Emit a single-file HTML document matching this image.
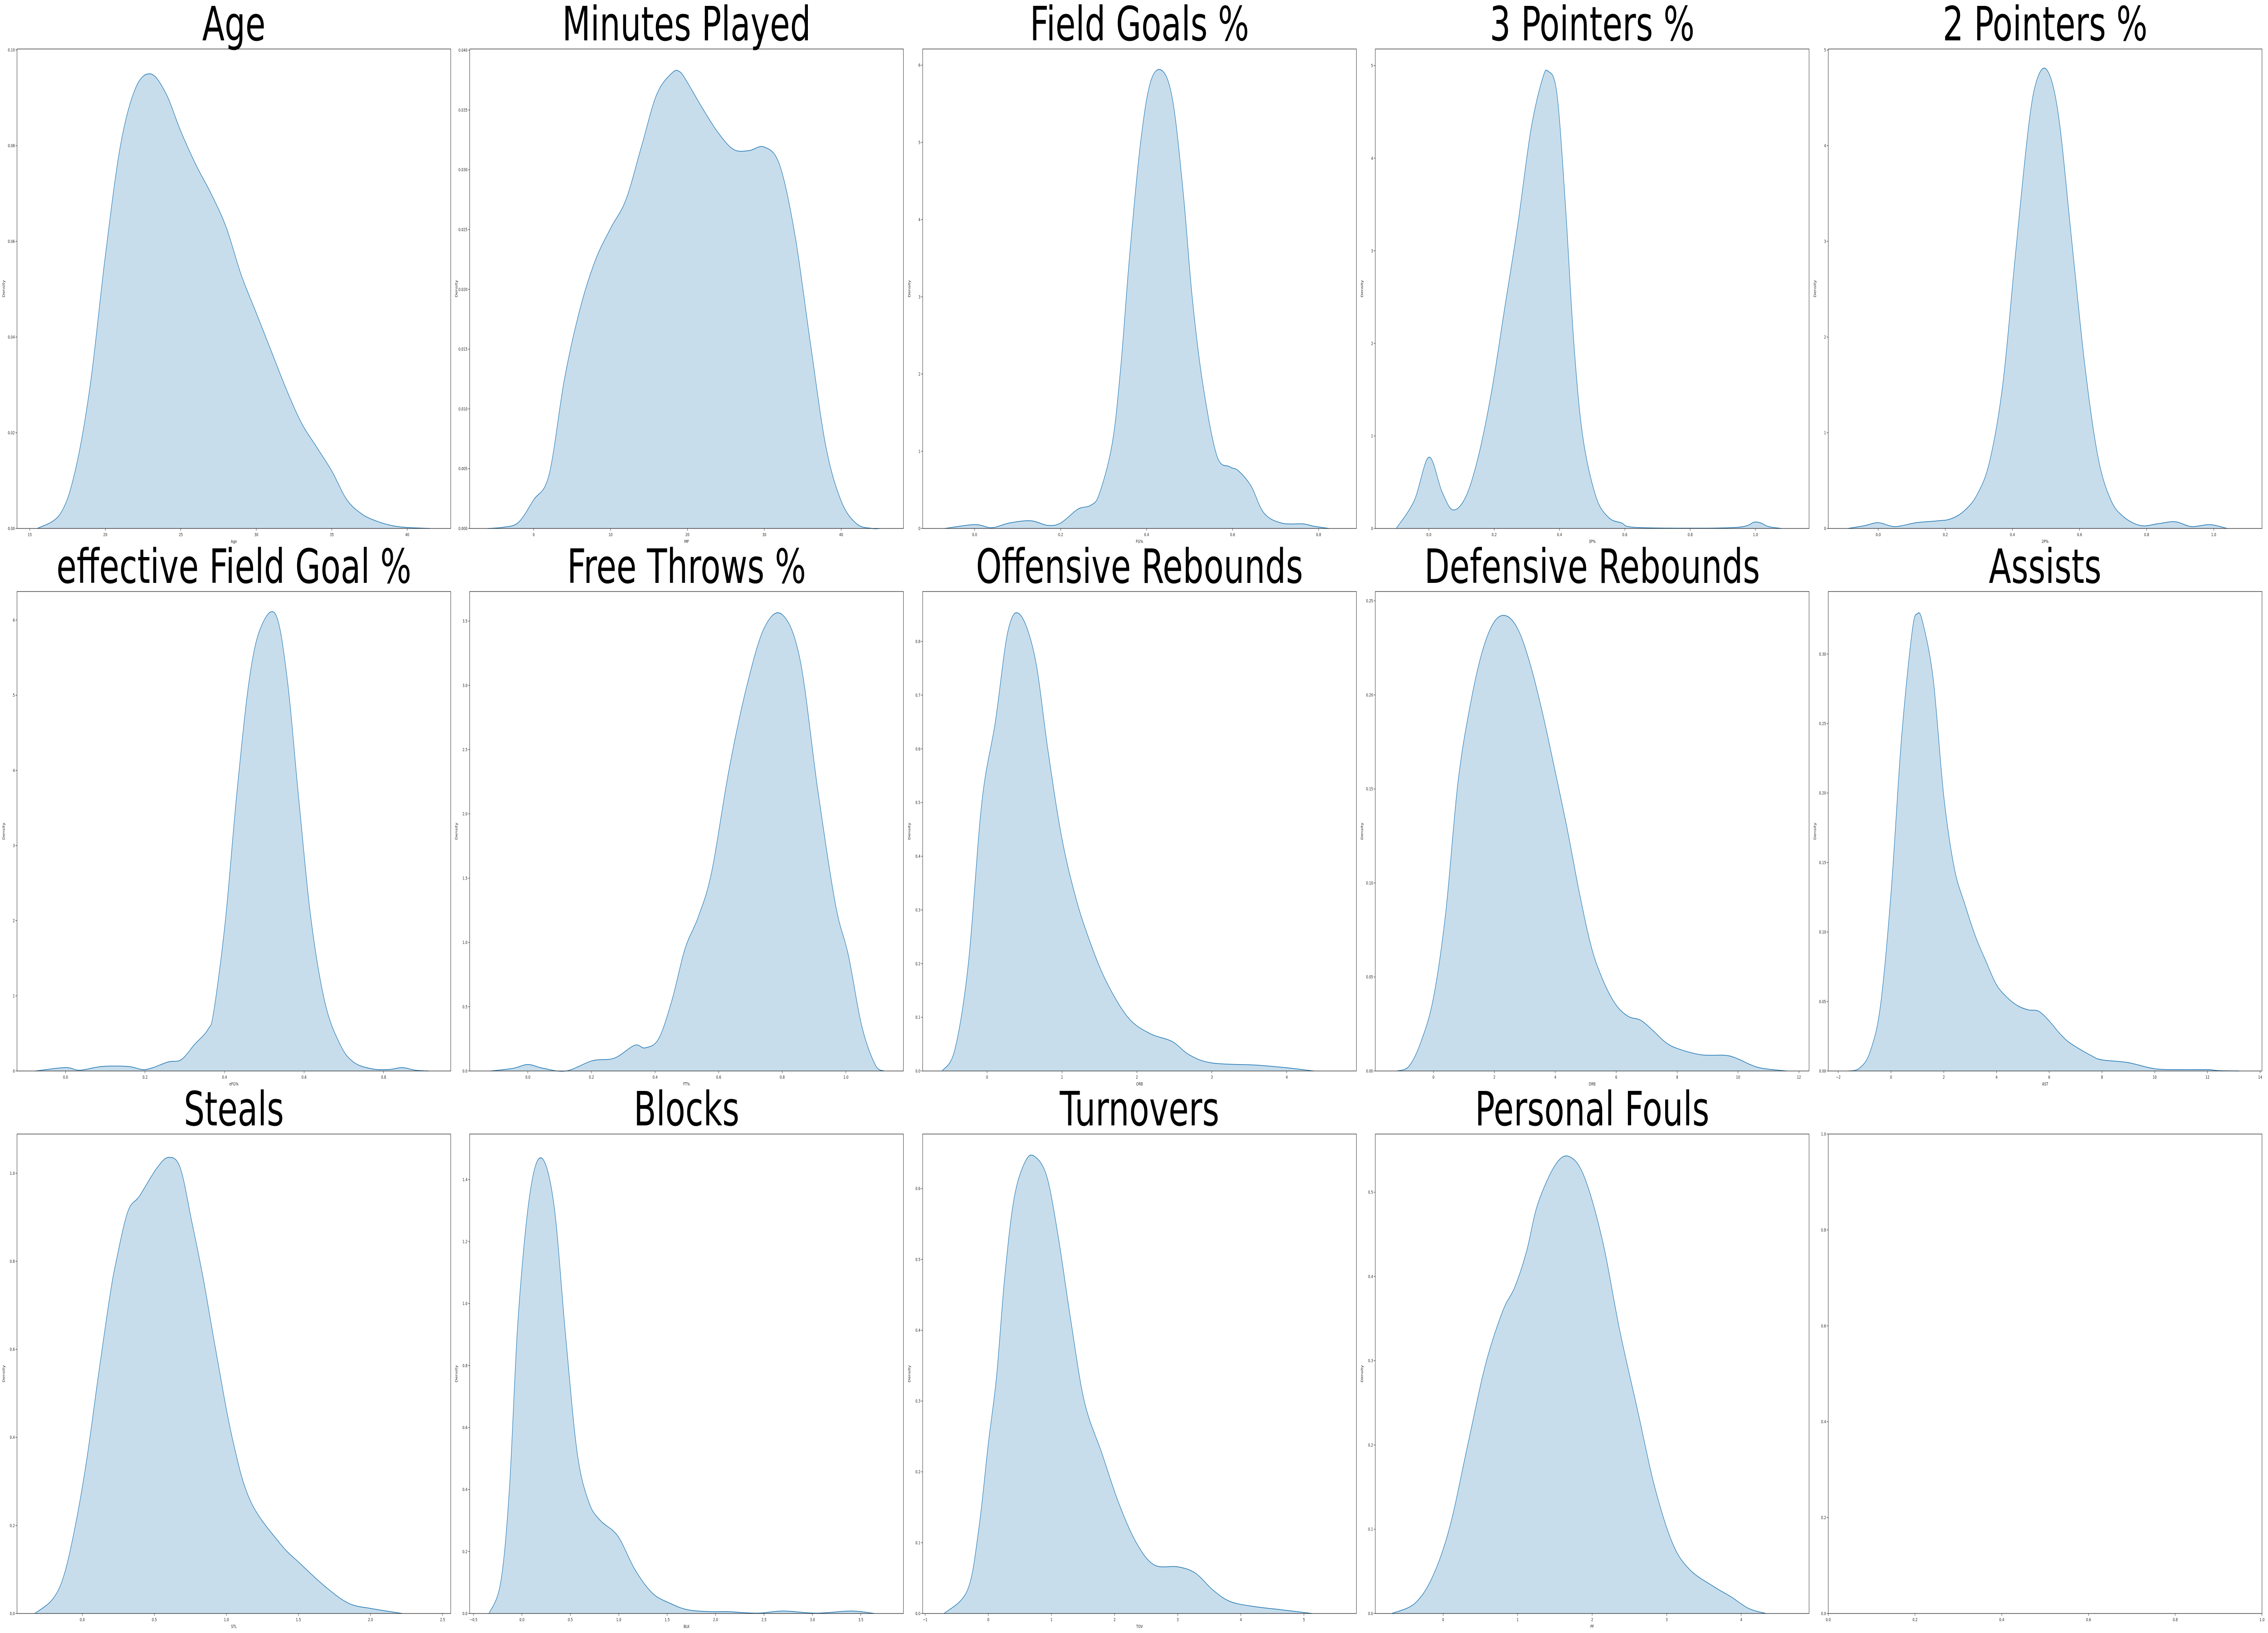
<!DOCTYPE html>
<html><head><meta charset="utf-8">
<style>
html,body{margin:0;padding:0;background:#fff;overflow:hidden;width:100vw;height:100vh;}
svg{display:block;position:absolute;left:0;top:0;width:100vw;height:100vh;font-family:"DejaVu Sans","Liberation Sans",sans-serif;}
</style></head>
<body>
<svg id="fig" viewBox="0 0 7200 3600" preserveAspectRatio="none" xmlns="http://www.w3.org/2000/svg"></svg>
<script>
// ---- data ----
const ageX=[15.5,17,18,19,20,21,22,23,24,25,26,27,28,29,30,31,32,33,34,35,36,37,38,39,40,41.5];
const ageY=[0,0.003,0.012,0.03,0.057,0.08,0.092,0.095,0.091,0.083,0.076,0.07,0.063,0.053,0.045,0.037,0.029,0.022,0.017,0.012,0.006,0.003,0.0015,0.0006,0.0002,0];
const mpX=[-6,-4,-2,0,2,4,6,8,10,12,14,16,18,19,20,22,24,26,28,30,32,34,36,38,40,42,44,45];
const mpY=[0,0.0001,0.0005,0.0024,0.0045,0.0125,0.0183,0.0224,0.0251,0.0275,0.0319,0.0363,0.0381,0.0382,0.0373,0.0351,0.0331,0.0317,0.0316,0.0319,0.0304,0.0245,0.0155,0.0069,0.0023,0.0004,0,0];
const fgX=[-0.07,0,0.04,0.08,0.13,0.17,0.2,0.24,0.27,0.29,0.32,0.34,0.36,0.386,0.41,0.438,0.462,0.486,0.506,0.53,0.563,0.593,0.613,0.643,0.673,0.714,0.764,0.788,0.824];
const fgY=[0,0.05,0.01,0.07,0.1,0.04,0.07,0.25,0.3,0.45,1.1,2.1,3.5,5.0,5.8,5.92,5.5,4.3,3.0,1.9,0.95,0.8,0.75,0.55,0.2,0.07,0.06,0.03,0];
const p3X=[-0.1,-0.045,0,0.04,0.074,0.114,0.153,0.193,0.233,0.273,0.312,0.347,0.365,0.392,0.418,0.444,0.471,0.511,0.55,0.59,0.643,0.934,1.0,1.04,1.08];
const p3Y=[0,0.3,0.77,0.4,0.2,0.35,0.8,1.5,2.4,3.3,4.3,4.85,4.94,4.7,3.5,2.0,1.0,0.35,0.12,0.06,0.01,0.01,0.07,0.02,0];
const p2X=[-0.09,-0.04,0,0.05,0.113,0.178,0.216,0.255,0.294,0.332,0.371,0.41,0.448,0.474,0.505,0.538,0.577,0.616,0.655,0.693,0.732,0.783,0.835,0.886,0.933,0.99,1.04];
const p2Y=[0,0.03,0.06,0.02,0.06,0.08,0.1,0.18,0.35,0.7,1.5,2.9,4.2,4.7,4.78,4.3,3.0,1.7,0.75,0.3,0.12,0.03,0.05,0.07,0.02,0.04,0];
const efgX=[-0.076,0,0.036,0.091,0.158,0.202,0.258,0.291,0.324,0.358,0.373,0.402,0.431,0.462,0.491,0.529,0.558,0.587,0.618,0.653,0.691,0.724,0.769,0.813,0.847,0.88,0.913];
const efgY=[0,0.045,0.01,0.06,0.06,0.02,0.12,0.15,0.35,0.55,0.8,2.0,3.7,5.2,5.9,6.07,5.2,3.6,2.0,0.9,0.35,0.12,0.03,0.02,0.045,0.01,0];
const ftX=[-0.117,-0.047,0,0.05,0.12,0.203,0.272,0.336,0.369,0.411,0.453,0.494,0.536,0.578,0.633,0.689,0.744,0.8,0.856,0.911,0.967,1.008,1.05,1.092,1.12];
const ftY=[0,0.02,0.05,0.02,0,0.08,0.1,0.2,0.18,0.25,0.55,0.95,1.2,1.55,2.35,3.0,3.45,3.55,3.2,2.2,1.3,0.9,0.35,0.05,0];
const orbX=[-0.6,-0.43,-0.25,-0.07,0.11,0.28,0.44,0.64,0.81,0.99,1.17,1.35,1.58,1.88,2.17,2.47,2.7,3.0,3.59,4.0,4.36];
const orbY=[0,0.04,0.2,0.5,0.65,0.82,0.85,0.77,0.6,0.44,0.33,0.25,0.17,0.1,0.07,0.055,0.03,0.015,0.011,0.006,0];
const drbX=[-1.2,-0.8,-0.4,0,0.4,0.8,1.2,1.6,2.0,2.4,2.8,3.2,3.6,4.0,4.4,4.8,5.2,5.6,6.0,6.4,6.8,7.2,7.6,8.0,8.8,9.6,10.0,10.4,10.8,11.6];
const drbY=[0,0.0026,0.016,0.039,0.084,0.153,0.194,0.223,0.239,0.242,0.234,0.215,0.189,0.159,0.128,0.094,0.065,0.047,0.035,0.029,0.027,0.0216,0.0155,0.012,0.0086,0.0083,0.0064,0.0034,0.0014,0];
const astX=[-1.6,-1.2,-0.8,-0.4,0,0.4,0.8,1.0,1.2,1.6,2.0,2.4,2.8,3.2,3.6,4.0,4.4,4.8,5.2,5.6,6.0,6.4,6.8,7.6,8.0,9.0,10.0,11.0,12.0,12.4,13.2];
const astY=[0,0.002,0.0135,0.047,0.128,0.24,0.316,0.329,0.323,0.282,0.198,0.146,0.12,0.097,0.079,0.062,0.053,0.047,0.044,0.043,0.036,0.027,0.02,0.011,0.008,0.006,0.0016,0.001,0.001,0.0003,0];
const stlX=[-0.33,-0.21,-0.13,-0.05,0.03,0.11,0.19,0.235,0.316,0.396,0.518,0.6,0.68,0.76,0.84,0.92,1.04,1.165,1.37,1.51,1.69,1.85,2.01,2.22];
const stlY=[0,0.031,0.084,0.197,0.348,0.537,0.718,0.8,0.913,0.948,1.012,1.036,1.012,0.89,0.76,0.61,0.4,0.257,0.16,0.114,0.06,0.023,0.011,0];
const blkX=[-0.34,-0.22,-0.13,-0.04,0.08,0.2,0.33,0.45,0.57,0.69,0.81,0.99,1.17,1.35,1.53,1.71,1.95,2.13,2.43,2.7,3.04,3.4,3.64];
const blkY=[0,0.1,0.4,0.95,1.35,1.47,1.32,0.9,0.52,0.36,0.3,0.25,0.14,0.065,0.033,0.012,0.006,0.006,0.001,0.008,0.001,0.008,0];
const tovX=[-0.7,-0.33,-0.15,0,0.13,0.26,0.41,0.59,0.74,0.93,1.11,1.3,1.52,1.8,2.07,2.35,2.63,3.0,3.28,3.56,3.83,4.2,4.67,5.13];
const tovY=[0,0.033,0.12,0.24,0.334,0.475,0.587,0.639,0.645,0.616,0.531,0.418,0.3,0.226,0.155,0.099,0.0685,0.066,0.057,0.033,0.017,0.01,0.005,0];
const pfX=[-0.69,-0.38,-0.14,0.09,0.33,0.57,0.8,0.96,1.12,1.27,1.51,1.7,1.9,2.14,2.37,2.61,2.84,3.08,3.31,3.63,3.86,4.1,4.33];
const pfY=[0,0.012,0.044,0.103,0.2,0.296,0.359,0.387,0.43,0.486,0.533,0.542,0.517,0.442,0.336,0.241,0.15,0.083,0.052,0.032,0.02,0.006,0];

// ---- layout ----
const colLeft=[54,1491,2929,4366,5804];
const rowTop=[108,1304,2500];
const AW=1377, AH=1057;
const NS="http://www.w3.org/2000/svg";
const svg=document.getElementById('fig');

function mk(tag,attrs,parent){const e=document.createElementNS(NS,tag);for(const k in attrs)e.setAttribute(k,attrs[k]);(parent||svg).appendChild(e);return e;}
function rng(a,b,s){const r=[];for(let v=a;v<=b+s*1e-6;v+=s)r.push(+v.toFixed(6));return r;}

const panels=[
 {name:'age',title:'Age',xl:'Age',xlim:[14.15,42.88],ylim:[0,0.1002],xt:rng(15,40,5),xd:0,yt:rng(0,0.1,0.02),yd:2,X:ageX,Y:ageY},
 {name:'minutes-played',title:'Minutes Played',xl:'MP',xlim:[-8.33,48.1],ylim:[0,0.0401],xt:rng(0,40,10),xd:0,yt:rng(0,0.04,0.005),yd:3,X:mpX,Y:mpY},
 {name:'field-goals-pct',title:'Field Goals %',xl:'FG%',xlim:[-0.121,0.888],ylim:[0,6.21],xt:rng(0,0.8,0.2),xd:1,yt:rng(0,6,1),yd:0,X:fgX,Y:fgY},
 {name:'three-pointers-pct',title:'3 Pointers %',xl:'3P%',xlim:[-0.164,1.164],ylim:[0,5.18],xt:rng(0,1,0.2),xd:1,yt:rng(0,5,1),yd:0,X:p3X,Y:p3Y},
 {name:'two-pointers-pct',title:'2 Pointers %',xl:'2P%',xlim:[-0.149,1.144],ylim:[0,5.01],xt:rng(0,1,0.2),xd:1,yt:rng(0,5,1),yd:0,X:p2X,Y:p2Y},
 {name:'effective-fg-pct',title:'effective Field Goal %',xl:'eFG%',xlim:[-0.122,0.969],ylim:[0,6.38],xt:rng(0,0.8,0.2),xd:1,yt:rng(0,6,1),yd:0,X:efgX,Y:efgY},
 {name:'free-throws-pct',title:'Free Throws %',xl:'FT%',xlim:[-0.183,1.181],ylim:[0,3.73],xt:rng(0,1,0.2),xd:1,yt:rng(0,3.5,0.5),yd:1,X:ftX,Y:ftY},
 {name:'offensive-rebounds',title:'Offensive Rebounds',xl:'ORB',xlim:[-0.86,4.93],ylim:[0,0.893],xt:rng(0,4,1),xd:0,yt:rng(0,0.8,0.1),yd:1,X:orbX,Y:orbY},
 {name:'defensive-rebounds',title:'Defensive Rebounds',xl:'DRB',xlim:[-1.91,12.33],ylim:[0,0.255],xt:rng(0,12,2),xd:0,yt:rng(0,0.25,0.05),yd:2,X:drbX,Y:drbY},
 {name:'assists',title:'Assists',xl:'AST',xlim:[-2.38,14.07],ylim:[0,0.345],xt:rng(-2,14,2),xd:0,yt:rng(0,0.3,0.05),yd:2,X:astX,Y:astY},
 {name:'steals',title:'Steals',xl:'STL',xlim:[-0.453,2.557],ylim:[0,1.089],xt:rng(0,2.5,0.5),xd:1,yt:rng(0,1,0.2),yd:1,X:stlX,Y:stlY},
 {name:'blocks',title:'Blocks',xl:'BLK',xlim:[-0.54,3.94],ylim:[0,1.547],xt:rng(-0.5,3.5,0.5),xd:1,yt:rng(0,1.4,0.2),yd:1,X:blkX,Y:blkY},
 {name:'turnovers',title:'Turnovers',xl:'TOV',xlim:[-1.04,5.83],ylim:[0,0.677],xt:rng(-1,5,1),xd:0,yt:rng(0,0.6,0.1),yd:1,X:tovX,Y:tovY},
 {name:'personal-fouls',title:'Personal Fouls',xl:'PF',xlim:[-0.91,4.91],ylim:[0,0.569],xt:rng(0,4,1),xd:0,yt:rng(0,0.5,0.1),yd:1,X:pfX,Y:pfY},
 {name:'empty',title:'',xl:'',xlim:[0,1],ylim:[0,1],xt:rng(0,1,0.2),xd:1,yt:rng(0,1,0.2),yd:1,X:[],Y:[]}
];

function smoothPath(pts){
  let d='M'+pts[0][0].toFixed(1)+','+pts[0][1].toFixed(1);
  for(let i=0;i<pts.length-1;i++){
    const p0=pts[Math.max(0,i-1)],p1=pts[i],p2=pts[i+1],p3=pts[Math.min(pts.length-1,i+2)];
    const c1x=p1[0]+(p2[0]-p0[0])/6,c1y=p1[1]+(p2[1]-p0[1])/6;
    const c2x=p2[0]-(p3[0]-p1[0])/6,c2y=p2[1]-(p3[1]-p1[1])/6;
    d+=' C'+c1x.toFixed(1)+','+c1y.toFixed(1)+' '+c2x.toFixed(1)+','+c2y.toFixed(1)+' '+p2[0].toFixed(1)+','+p2[1].toFixed(1);
  }
  return d;
}

panels.forEach((p,i)=>{
  const L=colLeft[i%5], T=rowTop[Math.floor(i/5)], B=T+AH, R=L+AW;
  const sx=v=>L+(v-p.xlim[0])/(p.xlim[1]-p.xlim[0])*AW;
  const sy=v=>B-(v-p.ylim[0])/(p.ylim[1]-p.ylim[0])*AH;
  const g=mk('g',{});
  
  
  if(p.X.length){
    const pts=p.X.map((x,k)=>[sx(x),Math.min(B,sy(p.Y[k]))]);
    const line=smoothPath(pts);
    const area=mk('path',{d:line+' L'+pts[pts.length-1][0].toFixed(1)+','+B+' L'+pts[0][0].toFixed(1)+','+B+' Z',fill:'#1f77b4','fill-opacity':'0.25',stroke:'none'},g);
    
    
    const ln=mk('path',{d:line,fill:'none',stroke:'#1f77b4','stroke-width':'1.5'},g);
    
    
  }
  const frame=mk('rect',{x:L,y:T,width:AW,height:AH,fill:'none',stroke:'#222','stroke-width':'1.2'},g);
  
  
  p.xt.forEach(v=>{
    const x=sx(v);
    if(x<L-0.5||x>R+0.5)return;
    mk('line',{x1:x,y1:B,x2:x,y2:B+5,stroke:'#222','stroke-width':'1'},g);
    const t=mk('text',{x:x,y:B+17,'font-size':'10','text-anchor':'middle',fill:'#222'},g);
    t.textContent=(v<0?'\u2212':'')+Math.abs(v).toFixed(p.xd);
    
    
  });
  p.yt.forEach(v=>{
    const y=sy(v);
    mk('line',{x1:L-5,y1:y,x2:L,y2:y,stroke:'#222','stroke-width':'1'},g);
    const t=mk('text',{x:L-7,y:y+3.5,'font-size':'10','text-anchor':'end',fill:'#222'},g);
    t.textContent=v.toFixed(p.yd);
    
    
  });
  if(p.xl){
    const xl=mk('text',{x:(L+R)/2,y:B+32,'font-size':'10','text-anchor':'middle',fill:'#222'},g);
    xl.textContent=p.xl;
    
    
    const yl=mk('text',{x:0,y:0,'font-size':'10','text-anchor':'middle',fill:'#222',transform:'translate('+(L-39)+','+(T+AH/2)+') rotate(-90)'},g);
    yl.textContent='Density';
    
    
  }
  if(p.title){
    const tt=mk('text',{x:(L+R)/2,y:T-19,'font-size':'104','text-anchor':'middle',fill:'#000'},g);
    tt.textContent=p.title;
    
    
  }
});
</script>
</body></html>
